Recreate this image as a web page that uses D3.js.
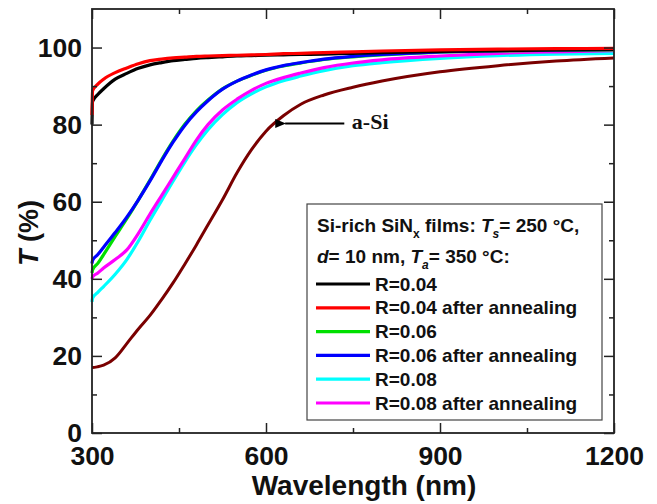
<!DOCTYPE html>
<html>
<head>
<meta charset="utf-8">
<script src="https://cdn.jsdelivr.net/npm/d3@7/dist/d3.min.js"></script>
<style>
  html, body { margin: 0; padding: 0; background: #fff; }
  svg { display: block; font-family: "Liberation Sans", Arial, sans-serif; }
</style>
</head>
<body>
<div id="chart"></div>
<script>
// Data
const wavelength = [300, 301, 310, 320, 340, 360, 380, 400, 420, 440, 460, 480, 500, 525, 550, 575, 600, 630, 660, 700, 750, 800, 900, 1000, 1100, 1200];

const r004     = [80, 86, 87.8, 89.3, 91.8, 93.3, 94.6, 95.5, 96.1, 96.6, 96.9, 97.2, 97.4, 97.6, 97.8, 97.9, 98.0, 98.1, 98.2, 98.3, 98.5, 98.7, 99.0, 99.2, 99.4, 99.5];
const r004ann  = [82.5, 88.8, 90.5, 91.8, 93.5, 94.7, 95.8, 96.6, 97.0, 97.3, 97.5, 97.7, 97.8, 97.9, 98.0, 98.1, 98.2, 98.4, 98.5, 98.7, 98.9, 99.1, 99.4, 99.6, 99.7, 99.8];
const r006     = [41.5, 42.3, 44, 46.3, 51, 55.6, 60.5, 65.6, 70.9, 75.8, 80.1, 83.6, 86.4, 89.3, 91.3, 92.8, 94.1, 95.2, 96.0, 96.9, 97.6, 98.1, 98.8, 99.1, 99.3, 99.4];
const r006ann  = [44, 44.8, 46.3, 48.2, 52, 56, 60.5, 65.4, 70.6, 75.5, 79.8, 83.3, 86.2, 89.2, 91.3, 92.9, 94.2, 95.3, 96.1, 97.0, 97.7, 98.2, 98.9, 99.2, 99.4, 99.5];
const r008     = [34, 35, 36.5, 38, 41.2, 45, 49.8, 55.2, 60.3, 65.4, 70.3, 74.8, 78.7, 82.6, 85.7, 88.0, 89.8, 91.4, 92.6, 94.0, 95.3, 96.1, 97.2, 97.9, 98.3, 98.5];
const r008ann  = [40, 40.5, 41.5, 42.8, 45, 47.5, 51.8, 56.8, 61.6, 66.4, 71.2, 76.0, 80.0, 83.8, 86.6, 88.9, 90.7, 92.2, 93.4, 94.8, 96.0, 96.8, 97.8, 98.5, 98.9, 99.2];
const aSi      = [17, 17, 17.2, 17.6, 19.5, 23.2, 27, 30.5, 34.6, 39, 43.8, 48.8, 54, 60.5, 67.5, 73.5, 78.3, 82.3, 85.3, 87.7, 89.7, 91.3, 93.7, 95.3, 96.5, 97.3];

const seriesNames  = ['R=0.04', 'R=0.04 after annealing', 'R=0.06', 'R=0.06 after annealing', 'R=0.08', 'R=0.08 after annealing'];
const seriesValues = [r004, r004ann, r006, r006ann, r008, r008ann];
const seriesColors = ['#000000', '#ff0000', '#00e000', '#0000ff', '#00ffff', '#ff00ff'];

const xTicks = [300, 600, 900, 1200];
const xMinor = [450, 750, 1050];
const yTicks = [0, 20, 40, 60, 80, 100];
const yMinor = [10, 30, 50, 70, 90];

// Layout
const width  = 657;
const height = 504;
const plot   = { left: 92, top: 9, right: 614, bottom: 433 };

const svg = d3.select('#chart').append('svg')
  .attr('width', width)
  .attr('height', height);

const x = d3.scaleLinear().domain([300, 1200]).range([plot.left, plot.right]);
const y = d3.scaleLinear().domain([0, 110]).range([plot.bottom, plot.top]);

const line = d3.line()
  .x(d => x(d[0]))
  .y(d => y(d[1]))
  .curve(d3.curveMonotoneX);

// Curves (drawn back to front like the original)
const drawOrder = [4, 5, 2, 3, 0, 1];
const curves = svg.append('g');
curves.append('path')
  .datum(wavelength.map((w, i) => [w, aSi[i]]))
  .attr('fill', 'none')
  .attr('stroke', '#7a0000')
  .attr('stroke-width', 3)
  .attr('d', line);
drawOrder.forEach(k => {
  curves.append('path')
    .datum(wavelength.map((w, i) => [w, seriesValues[k][i]]))
    .attr('fill', 'none')
    .attr('stroke', seriesColors[k])
    .attr('stroke-width', 3.2)
    .attr('d', line);
});

// Axes with inward ticks
function styleAxis(g) {
  g.select('.domain').remove();
  g.selectAll('line').attr('stroke', '#222').attr('stroke-width', 1.5);
  g.selectAll('text').attr('fill', '#111').style('font-size', '26.5px').style('font-weight', 'bold');
}

svg.append('g')
  .attr('transform', `translate(0,${plot.bottom})`)
  .call(d3.axisBottom(x).tickValues(xTicks).tickFormat(d3.format('d')).tickSize(-10).tickPadding(13))
  .call(styleAxis);
svg.append('g')
  .attr('transform', `translate(0,${plot.bottom})`)
  .call(d3.axisBottom(x).tickValues(xMinor).tickFormat('').tickSize(-5))
  .call(styleAxis);
svg.append('g')
  .attr('transform', `translate(0,${plot.top})`)
  .call(d3.axisTop(x).tickValues(xTicks).tickFormat('').tickSize(-10))
  .call(styleAxis);
svg.append('g')
  .attr('transform', `translate(0,${plot.top})`)
  .call(d3.axisTop(x).tickValues(xMinor).tickFormat('').tickSize(-5))
  .call(styleAxis);

svg.append('g')
  .attr('transform', `translate(${plot.left},0)`)
  .call(d3.axisLeft(y).tickValues(yTicks).tickSize(-10).tickPadding(10))
  .call(styleAxis);
svg.append('g')
  .attr('transform', `translate(${plot.left},0)`)
  .call(d3.axisLeft(y).tickValues(yMinor).tickFormat('').tickSize(-5))
  .call(styleAxis);
svg.append('g')
  .attr('transform', `translate(${plot.right},0)`)
  .call(d3.axisRight(y).tickValues(yTicks).tickFormat('').tickSize(-10))
  .call(styleAxis);
svg.append('g')
  .attr('transform', `translate(${plot.right},0)`)
  .call(d3.axisRight(y).tickValues(yMinor).tickFormat('').tickSize(-5))
  .call(styleAxis);

// Frame
svg.append('rect')
  .attr('x', plot.left).attr('y', plot.top)
  .attr('width', plot.right - plot.left).attr('height', plot.bottom - plot.top)
  .attr('fill', 'none').attr('stroke', '#222').attr('stroke-width', 1.8);

// Axis titles
svg.append('text')
  .attr('x', 364)
  .attr('y', 495)
  .attr('text-anchor', 'middle')
  .style('font-size', '28px').style('font-weight', 'bold').attr('fill', '#111')
  .text('Wavelength (nm)');

const yTitle = svg.append('text')
  .attr('transform', 'translate(38,233) rotate(-90)')
  .attr('text-anchor', 'middle')
  .style('font-size', '27px').style('font-weight', 'bold').attr('fill', '#111');
yTitle.append('tspan').style('font-style', 'italic').text('T');
yTitle.append('tspan').text(' (%)');

// a-Si annotation
svg.append('defs').append('marker')
  .attr('id', 'arrow')
  .attr('viewBox', '0 0 10 10').attr('refX', 1).attr('refY', 5)
  .attr('markerWidth', 5).attr('markerHeight', 5).attr('orient', 'auto-start-reverse')
  .append('path').attr('d', 'M0,5 L10,1 L10,9 Z').attr('fill', '#000');
svg.append('line')
  .attr('x1', x(633)).attr('x2', x(735))
  .attr('y1', y(80.3)).attr('y2', y(80.3))
  .attr('stroke', '#000').attr('stroke-width', 2.2)
  .attr('marker-start', 'url(#arrow)');
svg.append('text')
  .attr('x', x(748)).attr('y', y(80.3) + 6)
  .style('font-family', '"Liberation Serif", "Times New Roman", serif')
  .style('font-size', '22px').style('font-weight', 'bold').attr('fill', '#111')
  .text('a-Si');

// Legend
const legend = svg.append('g');
legend.append('rect')
  .attr('x', 307).attr('y', 204).attr('width', 295).attr('height', 216)
  .attr('fill', '#fff').attr('stroke', '#444').attr('stroke-width', 1.2);

const t1 = legend.append('text').attr('x', 317).attr('y', 232)
  .style('font-size', '19px').style('font-weight', 'bold').attr('fill', '#111');
t1.append('tspan').text('Si-rich SiN');
t1.append('tspan').attr('dy', 6).style('font-size', '12px').text('x');
t1.append('tspan').attr('dy', -6).text(' films: ');
t1.append('tspan').style('font-style', 'italic').text('T');
t1.append('tspan').attr('dy', 6).style('font-size', '12px').style('font-style', 'italic').text('s');
t1.append('tspan').attr('dy', -6).text('= 250 °C,');

const t2 = legend.append('text').attr('x', 317).attr('y', 263)
  .style('font-size', '19px').style('font-weight', 'bold').attr('fill', '#111');
t2.append('tspan').style('font-style', 'italic').text('d');
t2.append('tspan').text('= 10 nm, ');
t2.append('tspan').style('font-style', 'italic').text('T');
t2.append('tspan').attr('dy', 6).style('font-size', '12px').style('font-style', 'italic').text('a');
t2.append('tspan').attr('dy', -6).text('= 350 °C:');

const entries = legend.selectAll('g.entry')
  .data(seriesNames)
  .join('g')
  .attr('class', 'entry')
  .attr('transform', (d, i) => `translate(0,${284 + i * 23.8})`);
entries.append('line')
  .attr('x1', 316).attr('x2', 370)
  .attr('stroke', (d, i) => seriesColors[i])
  .attr('stroke-width', 3.2);
entries.append('text')
  .attr('x', 375).attr('y', 6.5)
  .style('font-size', '19px').style('font-weight', 'bold').attr('fill', '#111')
  .text(d => d);
</script>
</body>
</html>
